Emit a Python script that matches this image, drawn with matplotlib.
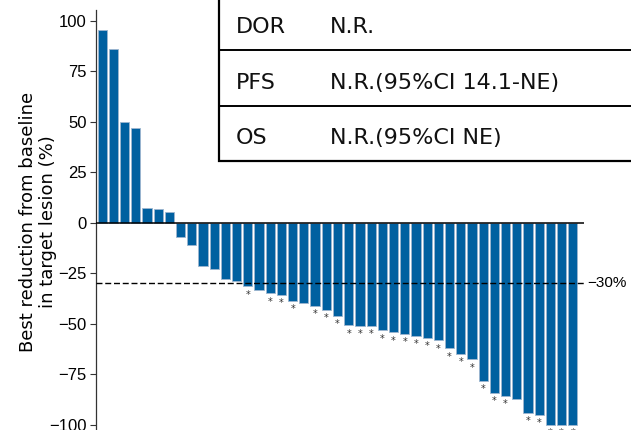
import matplotlib
matplotlib.use("Agg")
import matplotlib.pyplot as plt
from matplotlib import font_manager
from matplotlib.patches import Rectangle
from matplotlib.lines import Line2D
from matplotlib.transforms import blended_transform_factory

# best change from baseline per patient, sorted (waterfall)
changes = [95.4, 85.8, 49.7, 46.9, 7.1, 6.8, 5.3, -7.2, -11.1, -21.3,
           -22.8, -27.9, -28.7, -31.3, -33.3, -34.8, -35.5, -38.6, -39.9, -41.1,
           -43.1, -46.0, -50.6, -51.0, -51.0, -53.1, -54.1, -54.8, -55.8, -56.9,
           -58.2, -62.0, -64.7, -67.5, -78.2, -84.0, -85.5, -87.1, -93.9, -95.0,
           -100.0, -100.0, -100.0]
# patients still on treatment
ongoing = [0, 0, 0, 0, 0, 0, 0, 0, 0, 0,
           0, 0, 0, 1, 0, 1, 1, 1, 0, 1,
           1, 1, 1, 1, 1, 1, 1, 1, 1, 1,
           1, 1, 1, 1, 1, 1, 1, 0, 1, 1,
           1, 1, 1]
yticks = [100, 75, 50, 25, 0, -25, -50, -75, -100]
ytick_labels = ["100", "75", "50", "25", "0", "\u221225", "\u221250", "\u221275", "\u2212100"]
threshold = -30
table_rows = [("DOR", "N.R."),
              ("PFS", "N.R.(95%CI 14.1-NE)"),
              ("OS", "N.R.(95%CI NE)")]

BAR_BLUE = "#0060a0"

names = {f.name for f in font_manager.fontManager.ttflist}
narrow = "Liberation Sans Narrow" if "Liberation Sans Narrow" in names else "Liberation Sans"
tick_size = 13 if narrow == "Liberation Sans Narrow" else 12
pct_size = 12.5 if narrow == "Liberation Sans Narrow" else 11

W, H = 631, 430
fig = plt.figure(figsize=(W / 100, H / 100), dpi=100)
ax = fig.add_axes([95.7 / W, 0, (584 - 95.7) / W, 1 - 10 / H])

x = list(range(len(changes)))
ax.bar(x, changes, width=0.82, color=BAR_BLUE, edgecolor="#9db6cf", linewidth=0.6, zorder=2)
for i, (v, flag) in enumerate(zip(changes, ongoing)):
    if flag:
        ax.text(i, v - 4.2, "*", ha="center", va="center", fontsize=7, color="#333333")

ax.axhline(0, color="black", linewidth=1.1, zorder=3)
ax.axhline(threshold, color="black", linewidth=1.0, dashes=(4.3, 2.0), zorder=4)
trans = blended_transform_factory(ax.transAxes, ax.transData)
ax.text(1.007, threshold, "\u221230%", transform=trans, ha="left", va="center",
        fontsize=pct_size, family=[narrow, "DejaVu Sans"], clip_on=False)

ax.set_xlim(-0.58, len(changes))
ax.set_ylim(-102.5, 105.3)
ax.set_xticks([])
ax.set_yticks(yticks)
ax.set_yticklabels(ytick_labels, family=[narrow, "DejaVu Sans"], fontsize=tick_size)
ax.tick_params(axis="y", length=4.3, width=0.8, pad=2, color="#333333")
for side in ("top", "right", "bottom"):
    ax.spines[side].set_visible(False)
ax.spines["left"].set_color("#333333")
ax.spines["left"].set_linewidth(0.9)
ax.patch.set_visible(False)

fig.text(38 / W, 1 - 222 / H, "Best reduction from baseline\nin target lesion (%)",
         rotation=90, ha="center", va="center", fontsize=13,
         family="DejaVu Sans", linespacing=1.2)

# summary table in the upper right
x0 = 218.5 / W
fig.add_artist(Rectangle((x0, 1 - 161 / H), 1.02 - x0, 0.05 + 161 / H,
                         transform=fig.transFigure, facecolor="white",
                         edgecolor="black", linewidth=1.6, zorder=5))
for yy in (50, 105.7):
    fig.add_artist(Line2D([x0, 1.02], [1 - yy / H] * 2, transform=fig.transFigure,
                          color="black", linewidth=1.4, zorder=6))
baselines = [33.3, 89.3, 144.0]
for (name, value), yb in zip(table_rows, baselines):
    fig.text(235.7 / W, 1 - yb / H, name, ha="left", va="baseline",
             fontsize=16, family="DejaVu Sans", color="#111111", zorder=7)
    fig.text(330 / W, 1 - yb / H, value, ha="left", va="baseline",
             fontsize=16, family="DejaVu Sans", color="#111111", zorder=7)

fig.savefig("out.png", dpi=100)
